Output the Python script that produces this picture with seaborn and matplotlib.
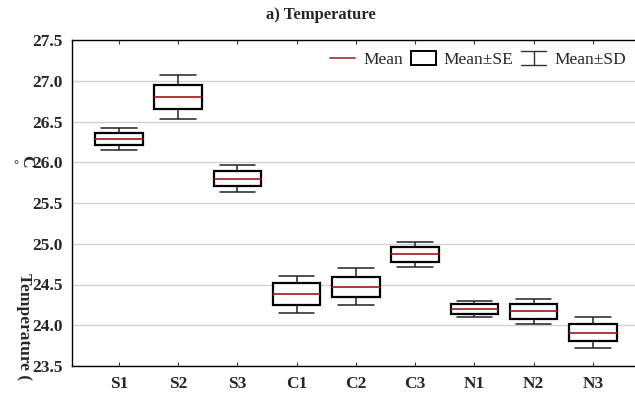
import numpy as np
import pandas as pd
import matplotlib
matplotlib.use("Agg")
import matplotlib.pyplot as plt
import seaborn as sns
from matplotlib.lines import Line2D
from matplotlib.patches import Rectangle
from matplotlib.legend_handler import HandlerBase

# Water temperature per sampling site (°C)
sites = ["S1", "S2", "S3", "C1", "C2", "C3", "N1", "N2", "N3"]
mean = [26.28, 26.80, 25.80, 24.38, 24.47, 24.87, 24.20, 24.17, 23.91]
se = [0.073, 0.150, 0.094, 0.133, 0.127, 0.088, 0.057, 0.088, 0.102]
sd = [0.135, 0.265, 0.166, 0.228, 0.227, 0.153, 0.099, 0.153, 0.186]

y_ticks = [23.5, 24.0, 24.5, 25.0, 25.5, 26.0, 26.5, 27.0, 27.5]

# Five-point summary per site so the box spans mean±SE, whiskers mean±SD
rows = []
for s, m, e, d in zip(sites, mean, se, sd):
    for v in (m - d, m - e, m, m + e, m + d):
        rows.append({"site": s, "temp": v})
df = pd.DataFrame(rows)

sns.set_theme(style="white")
plt.rcParams["font.family"] = ["Liberation Serif", "DejaVu Serif"]
plt.rcParams["mathtext.fontset"] = "stix"

RED = "#a8282a"
fig = plt.figure(figsize=(6.35, 3.94), dpi=100)
ax = fig.add_axes([72 / 635, 1 - 366 / 394, 1 - 72 / 635, (366 - 40) / 394])

sns.boxplot(
    data=df, x="site", y="temp", order=sites, ax=ax,
    whis=(0, 100), width=0.8, capwidths=0.6,
    boxprops=dict(facecolor="white", edgecolor="black", linewidth=1.6),
    medianprops=dict(color=RED, linewidth=1.3),
    whiskerprops=dict(color="#222222", linewidth=1.1),
    capprops=dict(color="#222222", linewidth=1.1),
    showfliers=False,
)

ax.set_ylim(23.5, 27.5)
ax.set_xlim(-0.79, 8.71)
ax.set_yticks(y_ticks)
ax.set_yticklabels([f"{t:.1f}" for t in y_ticks])
ax.yaxis.grid(True, color="#d2d2d2", linewidth=1.0, linestyle="-")
ax.set_axisbelow(True)
ax.set_xlabel("")
ax.set_ylabel("")

for side in ("left", "bottom", "top"):
    ax.spines[side].set_visible(True)
    ax.spines[side].set_color("black")
    ax.spines[side].set_linewidth(1.0)
ax.spines["right"].set_visible(False)

ax.tick_params(axis="x", direction="in", top=True, bottom=True, length=3,
               width=0.8, color="#333333", pad=7, labelsize=12.5)
ax.tick_params(axis="y", direction="in", left=True, length=0, pad=6.5,
               labelsize=12.5)
for lab in ax.get_xticklabels() + ax.get_yticklabels():
    lab.set_fontweight("bold")

fig.text(321 / 635, 1 - 15 / 394, "a) Temperature", ha="center", va="center",
         fontsize=12, fontweight="bold")

# Axis title pieces
fig.text(24 / 635, 1 - 273 / 394, "Temperature (", rotation=270,
         ha="center", va="top", fontsize=12.5, fontweight="bold")
fig.text(16 / 635, 1 - 165 / 394, "°", ha="center", va="center",
         fontsize=9, fontweight="bold")
fig.text(26 / 635, 1 - 161 / 394, "C", rotation=270, ha="center",
         va="center", fontsize=12.5, fontweight="bold")


class HandlerRange(HandlerBase):
    def create_artists(self, legend, orig_handle, xdescent, ydescent,
                       width, height, fontsize, trans):
        x0, x1 = -xdescent, width - xdescent
        y0, y1 = -ydescent, height - ydescent
        cx = (x0 + x1) / 2
        segs = [([cx, cx], [y0, y1]), ([x0, x1], [y0, y0]), ([x0, x1], [y1, y1])]
        arts = []
        for xs, ys in segs:
            ln = Line2D(xs, ys, color="#333333", linewidth=1.0)
            ln.set_transform(trans)
            arts.append(ln)
        return arts


class HandlerBox(HandlerBase):
    def create_artists(self, legend, orig_handle, xdescent, ydescent,
                       width, height, fontsize, trans):
        r = Rectangle((-xdescent, -ydescent), width, height,
                      facecolor="white", edgecolor="black", linewidth=1.4)
        r.set_transform(trans)
        return [r]


h_mean = Line2D([], [], color=RED, linewidth=1.2)
h_se = Rectangle((0, 0), 1, 1)
h_sd = Line2D([], [])
leg = fig.legend(
    [h_mean, h_se, h_sd], ["Mean", "Mean±SE", "Mean±SD"],
    handler_map={Rectangle: HandlerBox(), h_sd: HandlerRange()},
    loc="upper left", bbox_to_anchor=(330 / 635, 1 - 51 / 394),
    ncol=3, frameon=False, fontsize=12.5, borderpad=0, borderaxespad=0,
    handlelength=1.44, handleheight=0.9, handletextpad=0.46,
    columnspacing=0.46,
)

fig.savefig("out.png", dpi=100)
